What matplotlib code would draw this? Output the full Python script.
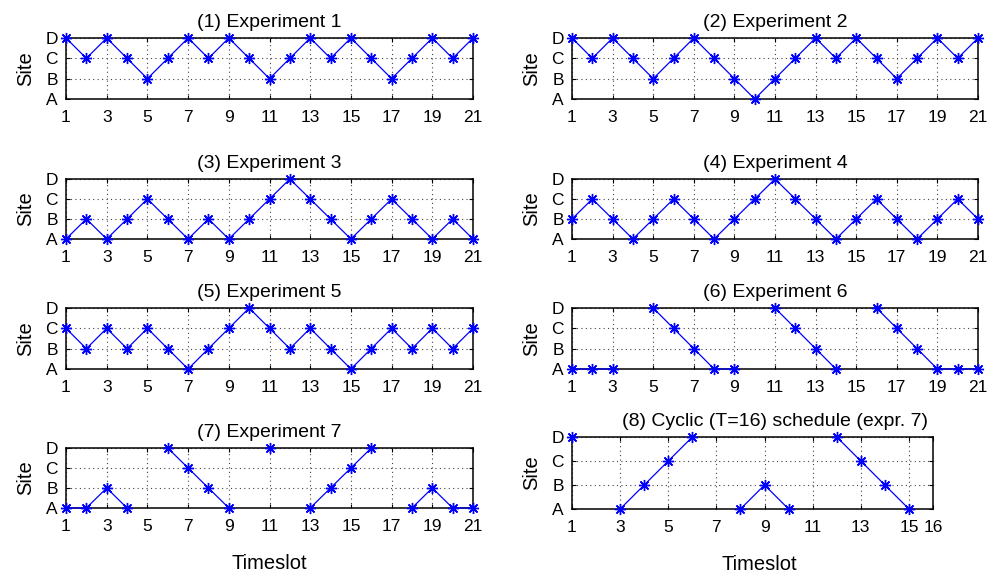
import numpy as np
import matplotlib
matplotlib.use("Agg")
import matplotlib.pyplot as plt

plt.rcParams['font.family'] = ['Liberation Sans', 'DejaVu Sans']

nan = np.nan
site_labels = ['A', 'B', 'C', 'D']
x21 = list(range(1, 22))
x16 = list(range(1, 17))

exp1 = [4,3,4,3,2,3,4,3,4,3,2,3,4,3,4,3,2,3,4,3,4]
exp2 = [4,3,4,3,2,3,4,3,2,1,2,3,4,3,4,3,2,3,4,3,4]
exp3 = [1,2,1,2,3,2,1,2,1,2,3,4,3,2,1,2,3,2,1,2,1]
exp4 = [2,3,2,1,2,3,2,1,2,3,4,3,2,1,2,3,2,1,2,3,2]
exp5 = [3,2,3,2,3,2,1,2,3,4,3,2,3,2,1,2,3,2,3,2,3]
exp6 = [1,1,1,nan,4,3,2,1,1,nan,4,3,2,1,nan,4,3,2,1,1,1]
exp7 = [1,1,2,1,nan,4,3,2,1,nan,4,nan,1,2,3,4,nan,1,2,1,1]
exp8 = [4,nan,1,2,3,4,nan,1,2,1,nan,4,3,2,1,nan]

titles = ['(1) Experiment 1', '(2) Experiment 2', '(3) Experiment 3',
          '(4) Experiment 4', '(5) Experiment 5', '(6) Experiment 6',
          '(7) Experiment 7', '(8) Cyclic (T=16) schedule (expr. 7)']
series = [exp1, exp2, exp3, exp4, exp5, exp6, exp7, exp8]
xs = [x21]*7 + [x16]
xticks21 = [1,3,5,7,9,11,13,15,17,19,21]
xticks16 = [1,3,5,7,9,11,13,15,16]

W, H = 992, 573
fig = plt.figure(figsize=(W/100, H/100), dpi=100)

# pixel boxes: left, top, right, bottom
boxes = [
    (66, 38, 473, 99), (572, 38, 978, 99),
    (66, 179, 473, 239), (572, 179, 978, 239),
    (66, 308, 473, 369), (572, 308, 978, 369),
    (66, 448, 473, 508), (572, 437, 933, 509),
]

for i, (l, t, r, b) in enumerate(boxes):
    ax = fig.add_axes([l/W, 1-b/H, (r-l)/W, (b-t)/H])
    x = xs[i]
    y = series[i]
    ax.plot(x, y, color=(0, 0, 1), lw=0.9, marker=(8, 2, 0), ms=8, mew=1.0,
            clip_on=False, zorder=3)
    ax.set_xlim(x[0], x[-1])
    ax.set_ylim(1, 4)
    ax.set_yticks([1, 2, 3, 4])
    ax.set_yticklabels(site_labels)
    if i == 7:
        ax.set_xticks(xticks16)
    else:
        ax.set_xticks(xticks21)
    ax.grid(True, linestyle=(0, (1, 3)), color='#444444', lw=0.8)
    ax.tick_params(direction='in', length=3, width=0.8, labelsize=12.5,
                   top=True, right=True)
    ax.tick_params(axis='x', pad=8)
    ax.tick_params(axis='y', pad=6)
    for s in ax.spines.values():
        s.set_linewidth(1.1)
    if i == 7:
        tx = (775 - l) / (r - l)
        lx = (759 - l) / (r - l)
    else:
        tx = 0.5
        lx = 0.5
    ax.set_title(titles[i], fontsize=14, pad=8, x=tx)
    ax.set_ylabel('Site', fontsize=14.5, labelpad=7)
    if i >= 6:
        ax.set_xlabel('Timeslot', fontsize=14.5, labelpad=14, x=lx)

fig.savefig('out.png', dpi=100)
